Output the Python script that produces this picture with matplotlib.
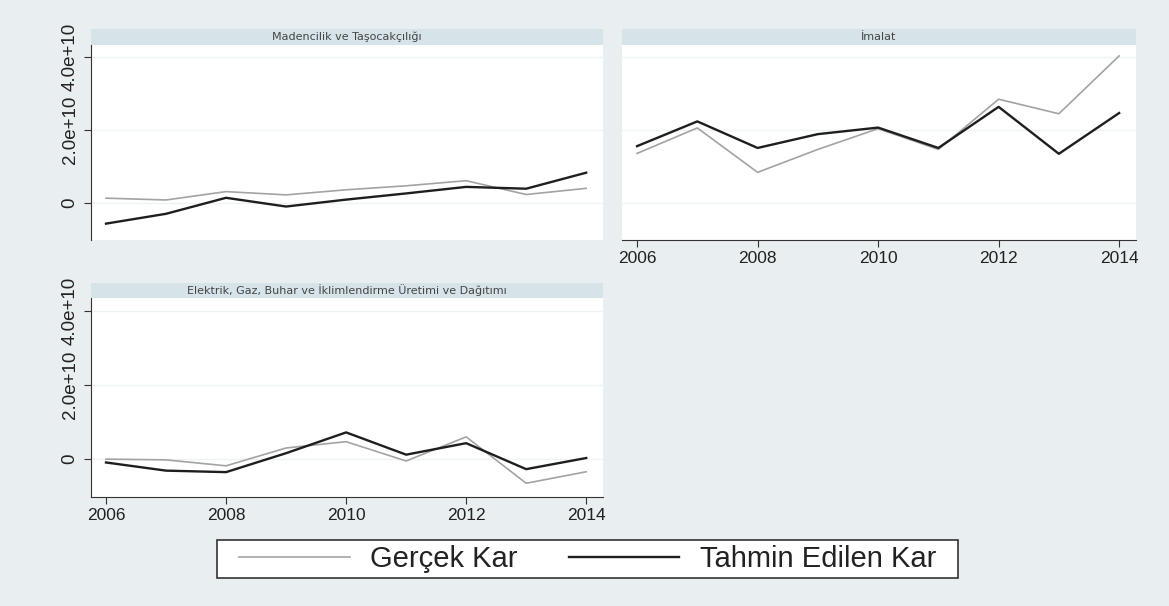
import matplotlib
matplotlib.use("Agg")
import matplotlib.pyplot as plt
from matplotlib.lines import Line2D
from matplotlib.patches import Rectangle

plt.rcParams['font.family'] = ['Liberation Sans', 'DejaVu Sans']

# --- data (values in units of 1e10) ---
years = [2006, 2007, 2008, 2009, 2010, 2011, 2012, 2013, 2014]
panel_titles = [
    "Madencilik ve Taşocakçılığı",
    "İmalat",
    "Elektrik, Gaz, Buhar ve İklimlendirme Üretimi ve Dağıtımı",
]
maden_gercek = [0.13, 0.08, 0.31, 0.22, 0.36, 0.47, 0.61, 0.23, 0.40]
maden_tahmin = [-0.57, -0.30, 0.14, -0.10, 0.09, 0.26, 0.44, 0.39, 0.83]
imalat_gercek = [1.36, 2.06, 0.84, 1.47, 2.04, 1.47, 2.85, 2.45, 4.04]
imalat_tahmin = [1.56, 2.24, 1.51, 1.89, 2.07, 1.51, 2.64, 1.35, 2.47]
elektrik_gercek = [0.00, -0.02, -0.18, 0.30, 0.47, -0.05, 0.60, -0.65, -0.34]
elektrik_tahmin = [-0.09, -0.31, -0.35, 0.16, 0.72, 0.12, 0.43, -0.27, 0.03]
series_labels = ["Gerçek Kar", "Tahmin Edilen Kar"]
y_ticks = [0, 2e10, 4e10]
y_ticklabels = ["0", "2.0e+10", "4.0e+10"]
x_ticks = [2006, 2008, 2010, 2012, 2014]

BG = "#e9eef1"
STRIP = "#d6e4ea"
GRID = "#eef3f4"
GRAY = "#a3a3a3"
DARK = "#1e1e1e"

W, H = 1169, 606
fig = plt.figure(figsize=(W / 100, H / 100), dpi=100, facecolor=BG)


def rect(l, t, r, b):
    return [l / W, 1 - b / H, (r - l) / W, (b - t) / H]


def make_panel(box, strip_box, title, gercek, tahmin, show_x, show_y):
    ax = fig.add_axes(rect(*box))
    ax.set_facecolor("white")
    ax.plot(years, [v * 1e10 for v in gercek], color=GRAY, lw=1.2, zorder=3)
    ax.plot(years, [v * 1e10 for v in tahmin], color=DARK, lw=1.7, zorder=4)
    ax.set_xlim(2005.75, 2014.28)
    ax.set_ylim(-1.02e10, 4.34e10)
    ax.set_yticks(y_ticks)
    ax.set_xticks(x_ticks)
    for y in y_ticks:
        ax.axhline(y, color=GRID, lw=1.0, zorder=1)
    for s in ["top", "right"]:
        ax.spines[s].set_visible(False)
    ax.spines["left"].set_visible(show_y)
    ax.spines["bottom"].set_visible(show_x)
    ax.spines["left"].set_color("#333333")
    ax.spines["bottom"].set_color("#333333")
    if show_y:
        ax.set_yticklabels(y_ticklabels, rotation=90, va="center", fontsize=13.5, color="#222222")
        ax.tick_params(axis="y", length=5, color="#333333", pad=4)
    else:
        ax.tick_params(axis="y", left=False, labelleft=False)
    if show_x:
        ax.set_xticklabels([str(x) for x in x_ticks], fontsize=12.5, color="#222222")
        ax.tick_params(axis="x", length=5, color="#333333", pad=3)
    else:
        ax.tick_params(axis="x", bottom=False, labelbottom=False)

    # strip with panel title
    sax = fig.add_axes(rect(*strip_box))
    sax.set_facecolor(STRIP)
    sax.set_xticks([])
    sax.set_yticks([])
    for s in sax.spines.values():
        s.set_visible(False)
    sax.text(0.5, 0.5, title, ha="center", va="center", fontsize=8, color="#444444",
             family="DejaVu Sans", transform=sax.transAxes)
    return ax


make_panel((91, 45, 603, 240), (91, 29, 603, 45), panel_titles[0],
           maden_gercek, maden_tahmin, show_x=False, show_y=True)
make_panel((622, 45, 1136, 240), (622, 29, 1136, 45), panel_titles[1],
           imalat_gercek, imalat_tahmin, show_x=True, show_y=False)
make_panel((91, 298, 603, 497), (91, 283, 603, 298), panel_titles[2],
           elektrik_gercek, elektrik_tahmin, show_x=True, show_y=True)

# legend box drawn as a figure patch, legend itself without frame
box = Rectangle((217 / W, 1 - 578 / H), (958 - 217) / W, 38 / H,
                transform=fig.transFigure, facecolor="white", edgecolor="#333333",
                lw=1.2, zorder=0)
fig.patches.append(box)

handles = [Line2D([], [], color=GRAY, lw=1.2), Line2D([], [], color=DARK, lw=1.7)]
leg = fig.legend(handles, series_labels, loc="center", ncol=2,
                 bbox_to_anchor=(587.5 / W, 1 - 559 / H), fontsize=21,
                 frameon=False, handlelength=3.8, handletextpad=0.7,
                 columnspacing=1.75, borderpad=0.15, borderaxespad=0)
for t in leg.get_texts():
    t.set_color("#222222")

fig.savefig("out.png", dpi=100, facecolor=BG)
